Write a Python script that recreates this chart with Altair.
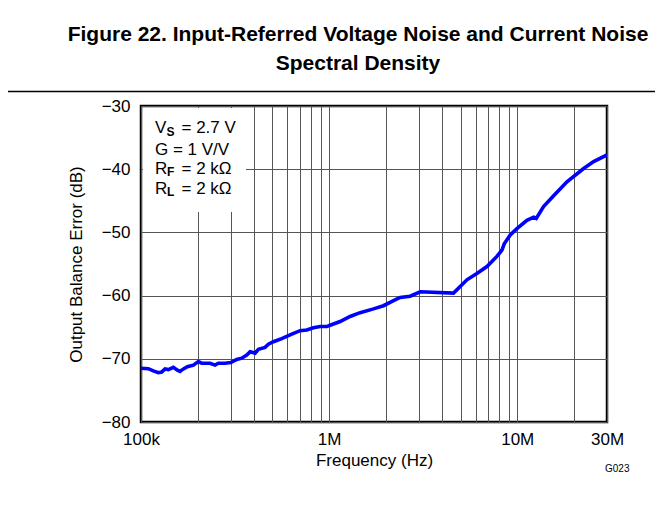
import altair as alt
import pandas as pd

# ---- data ----
freq_hz = [1.0e5, 1.094e5, 1.163e5, 1.236e5, 1.288e5, 1.342e5, 1.398e5, 1.486e5, 1.561e5, 1.612e5,
           1.68e5, 1.764e5, 1.898e5, 2.018e5, 2.102e5, 2.328e5, 2.475e5, 2.578e5, 2.797e5, 2.999e5,
           3.228e5, 3.431e5, 3.649e5, 3.80e5, 4.04e5, 4.21e5, 4.566e5, 4.756e5, 5.057e5, 5.601e5,
           6.331e5, 7.012e5, 7.607e5, 8.253e5, 8.957e5, 9.719e5, 1.012e6, 1.144e6, 1.293e6, 1.462e6,
           1.721e6, 1.945e6, 2.199e6, 2.386e6, 2.697e6, 3.05e6, 4.585e6, 5.4e6, 6.1e6, 6.9e6,
           7.796e6, 8.29e6, 8.53e6, 9.18e6, 9.96e6, 1.126e7, 1.222e7, 1.262e7, 1.38e7, 1.561e7,
           1.838e7, 2.254e7, 2.547e7, 3.0e7]
error_db = [-71.5, -71.56, -71.9, -72.2, -72.1, -71.6, -71.7, -71.35, -71.8, -72.0,
            -71.6, -71.25, -71.0, -70.45, -70.7, -70.7, -71.0, -70.7, -70.7, -70.6,
            -70.1, -69.9, -69.4, -68.9, -69.1, -68.5, -68.2, -67.7, -67.3, -66.8,
            -66.1, -65.55, -65.45, -65.1, -64.9, -64.9, -64.7, -64.1, -63.3, -62.7,
            -62.1, -61.6, -60.8, -60.3, -60.1, -59.4, -59.6, -57.5, -56.5, -55.4,
            -53.8, -52.8, -51.8, -50.4, -49.4, -48.1, -47.6, -47.8, -45.9, -44.2,
            -42.0, -39.9, -38.8, -37.75]

x_grid_values = [1e5, 2e5, 3e5, 4e5, 5e5, 6e5, 7e5, 8e5, 9e5,
                 1e6, 2e6, 3e6, 4e6, 5e6, 6e6, 7e6, 8e6, 9e6,
                 1e7, 2e7, 3e7]
x_tick_labels = {1e5: "100k", 1e6: "1M", 1e7: "10M", 3e7: "30M"}
y_ticks = [-80, -70, -60, -50, -40, -30]

title_lines = ["Figure 22. Input-Referred Voltage Noise and Current Noise", "Spectral Density"]
x_title = "Frequency (Hz)"
y_title = "Output Balance Error (dB)"
code_label = "G023"

FONT = "Liberation Sans"

df = pd.DataFrame({"freq": freq_hz, "db": error_db})

label_expr = " : ".join(
    [f"datum.value == {v:g} ? '{t}'" for v, t in x_tick_labels.items()]
) + " : ''"

x_enc = alt.X(
    "freq:Q",
    scale=alt.Scale(type="log", domain=[1e5, 3e7], nice=False),
    axis=alt.Axis(
        values=x_grid_values, labelExpr=label_expr, grid=True, gridColor="#555555",
        gridWidth=1, ticks=False, domain=False, labelFontSize=17, labelFont=FONT,
        labelColor="black", labelPadding=9, labelOverlap=False, labelFlush=False,
        title=x_title, titleFont=FONT, titleFontSize=17, titleFontWeight="normal",
        titleColor="black", titleY=43, titleBaseline="alphabetic",
    ),
)
y_enc = alt.Y(
    "db:Q",
    scale=alt.Scale(domain=[-80, -30], nice=False),
    axis=alt.Axis(
        values=y_ticks, labelExpr="replace(datum.label, '-', '\u2212')", grid=True,
        gridColor="#555555", gridWidth=1, ticks=False, domain=False, labelFontSize=17,
        labelFont=FONT, labelColor="black", labelPadding=11, title=y_title,
        titleFont=FONT, titleFontSize=17, titleFontWeight="normal", titleColor="black",
        titleX=-60, titleBaseline="alphabetic",
    ),
)

line = alt.Chart(df).mark_line(color="#0000ff", strokeWidth=3.6, clip=True).encode(x=x_enc, y=y_enc)

one = alt.Data(values=[{}])

box = alt.Chart(one).mark_rect(color="white").encode(
    x=alt.value(2), x2=alt.value(105), y=alt.value(2), y2=alt.value(106)
)


def txt(s, x, y, size=17, bold=False):
    return alt.Chart(one).mark_text(
        align="left", baseline="alphabetic", font=FONT, fontSize=size,
        fontWeight="bold" if bold else "normal", color="black",
    ).encode(x=alt.value(x), y=alt.value(y), text=alt.value(s))


notes = [
    txt("V", 14, 27.3), txt("S", 25.5, 29.5, 12, True), txt("= 2.7 V", 40.5, 27.3),
    txt("G = 1 V/V", 14, 49),
    txt("R", 14, 68), txt("F", 26, 70, 12, True), txt("= 2 k\u03a9", 40.5, 68),
    txt("R", 14, 88.3), txt("L", 26, 90.3, 12, True), txt("= 2 k\u03a9", 40.5, 88.3),
    txt(code_label, 464, 366.3, 10),
]

sep = alt.Chart(one).mark_rule(color="black", strokeWidth=1.5).encode(
    x=alt.value(-133), x2=alt.value(514), y=alt.value(-14.5)
)

chart = alt.layer(line, box, *notes, sep).properties(
    width=466, height=316,
    autosize=alt.AutoSizeParams(type="none"),
    padding={"left": 133, "top": 98, "right": 48, "bottom": 93},
    title=alt.TitleParams(
        title_lines, font=FONT, fontSize=21, fontWeight="bold", color="black",
        anchor="middle", dx=-16, lineHeight=29, offset=17,
    ),
).configure_view(stroke="black", strokeWidth=2.5)

chart.save("out.html", embed_options={"renderer": "svg", "actions": False})
